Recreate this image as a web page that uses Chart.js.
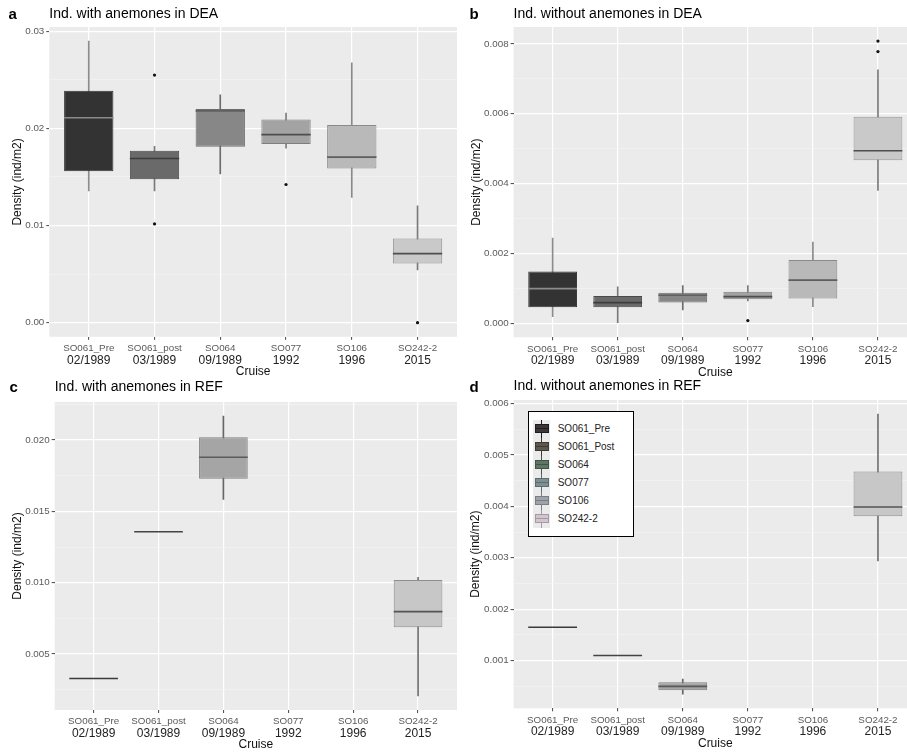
<!DOCTYPE html>
<html>
<head>
<meta charset="utf-8">
<script src="https://cdn.jsdelivr.net/npm/chart.js@4.4.1/dist/chart.umd.min.js"></script>
<style>
body { margin: 0; background: #fff; }
#page { position: relative; width: 907px; height: 753px; overflow: hidden; font-family: 'Liberation Sans', Arial, sans-serif; }
canvas { position: absolute; z-index: 1; }
.tag { position: absolute; z-index: 2; font-weight: bold; font-size: 15px; line-height: 15px; color: #000; }
#legend { position: absolute; z-index: 3; left: 528px; top: 411px; width: 106px; height: 126px; box-sizing: border-box; border: 1.3px solid #000; background: #fff; }
#legend .keys { position: absolute; left: 3.7px; top: 7.7px; width: 17px; height: 108px; background: #ebebeb; }
#legend .item { position: absolute; left: 0; height: 18px; width: 100px; }
#legend .wh { position: absolute; left: 12px; top: 0; width: 1px; height: 18px; }
#legend .bx { position: absolute; left: 5.5px; top: 4.5px; width: 14px; height: 9px; box-sizing: border-box; border: 1px solid; }
#legend .md { position: absolute; left: 0; top: 3px; width: 12px; height: 1px; }
#legend .lb { position: absolute; left: 28.7px; top: 3px; font-size: 10px; line-height: 12px; color: #222; }
</style>
</head>
<body>
<div id="page">
  <div class="tag" style="left:8.5px;top:6.3px">a</div>
  <div class="tag" style="left:469.5px;top:6.3px">b</div>
  <div class="tag" style="left:9.5px;top:379.3px">c</div>
  <div class="tag" style="left:469.5px;top:379.3px">d</div>
  <div id="legend"><div class="keys"></div></div>
</div>
<script>
const font_family = "'Liberation Sans', Arial, sans-serif"

const cruises = ['SO061_Pre', 'SO061_post', 'SO064', 'SO077', 'SO106', 'SO242-2']
const cruise_dates = ['02/1989', '03/1989', '09/1989', '1992', '1996', '2015']
const legend_names = ['SO061_Pre', 'SO061_Post', 'SO064', 'SO077', 'SO106', 'SO242-2']

// a - ind. with anemones in DEA
const a_low = [0.01357, 0.01357, 0.01531, 0.01796, 0.01289, 0.00544]
const a_q1 = [0.01558, 0.01476, 0.01810, 0.01840, 0.01588, 0.00609]
const a_med = [0.02109, 0.01690, 0.02180, 0.01935, 0.01704, 0.00711]
const a_q3 = [0.02388, 0.01769, 0.02199, 0.02092, 0.02034, 0.00867]
const a_high = [0.02898, 0.01816, 0.02344, 0.02156, 0.02673, 0.01204]
const a_out = [[], [0.02548, 0.01017], [], [0.01422], [], [0.0]]
const a_ticks = ['0.00', '0.01', '0.02', '0.03']

// b - ind. without anemones in DEA
const b_low = [0.00019, 0.00000, 0.00038, 0.00064, 0.000475, 0.00380]
const b_q1 = [0.000456, 0.000456, 0.00059, 0.000684, 0.00071, 0.00467]
const b_med = [0.00099, 0.00059, 0.00080, 0.00076, 0.001235, 0.00494]
const b_q3 = [0.00148, 0.00078, 0.000874, 0.00090, 0.00181, 0.00591]
const b_high = [0.00244, 0.00104, 0.00108, 0.00108, 0.00232, 0.00726]
const b_out = [[], [], [], [0.000076], [], [0.00808, 0.00778]]
const b_ticks = ['0.000', '0.002', '0.004', '0.006', '0.008']

// c - ind. with anemones in REF
const c_low = [0.00329, 0.01357, 0.01584, null, null, 0.00206]
const c_q1 = [0.00329, 0.01357, 0.01729, null, null, 0.00687]
const c_med = [0.00329, 0.01357, 0.01879, null, null, 0.00797]
const c_q3 = [0.00329, 0.01357, 0.02019, null, null, 0.01019]
const c_high = [0.00329, 0.01357, 0.02168, null, null, 0.01037]
const c_out = [[], [], [], [], [], []]
const c_ticks = ['0.005', '0.010', '0.015', '0.020']

// d - ind. without anemones in REF
const d_low = [0.001646, 0.001097, 0.000341, null, null, 0.00294]
const d_q1 = [0.001646, 0.001097, 0.000419, null, null, 0.00381]
const d_med = [0.001646, 0.001097, 0.000496, null, null, 0.00399]
const d_q3 = [0.001646, 0.001097, 0.000574, null, null, 0.00468]
const d_high = [0.001646, 0.001097, 0.000638, null, null, 0.00580]
const d_out = [[], [], [], [], [], []]
const d_ticks = ['0.001', '0.002', '0.003', '0.004', '0.005', '0.006']

// box styles
const dea_fill = ['#333333', '#6a6a6a', '#878787', '#a3a3a3', '#b9b9b9', '#c9c9c9']
const dea_border = ['#353535', '#4a4a4a', '#6c6c6c', '#7e7e7e', '#8a8a8a', '#959595']
const dea_median = ['#8c8c8c', '#3d3d3d', '#606060', '#4e4e4e', '#5e5e5e', '#4e4e4e']
const dea_whisker = ['#8c8c8c', '#7a7a7a', '#6c6c6c', '#7a7a7a', '#8a8a8a', '#7a7a7a']
const ref_fill = ['#444444', '#444444', '#a5a5a5', '#a3a3a3', '#b9b9b9', '#c7c7c7']
const ref_border = ['#444444', '#444444', '#808080', '#7e7e7e', '#8a8a8a', '#8e8e8e']
const ref_median = ['#3a3a3a', '#444444', '#5a5a5a', '#4e4e4e', '#5e5e5e', '#555555']
const ref_whisker = ['#444444', '#444444', '#666666', '#7a7a7a', '#8a8a8a', '#707070']

const legend_fill = ['#3b3738', '#5d584d', '#607566', '#7f9092', '#a0a2aa', '#d2c6ce']
const legend_line = ['#1e1c1c', '#3f3a30', '#3f5545', '#5c6e70', '#7b7d86', '#a898a2']

const panel_bg = {
    id: 'panel_bg',
    beforeDraw(chart) {
        const { ctx, chartArea: a } = chart
        ctx.save()
        ctx.fillStyle = '#ebebeb'
        ctx.fillRect(a.left, a.top, a.right - a.left, a.bottom - a.top)
        ctx.restore()
    }
}

function boxplot_chart(p, lay) {
    const canvas = document.createElement('canvas')
    canvas.width = lay.w
    canvas.height = lay.h
    canvas.style.left = lay.left + 'px'
    canvas.style.top = lay.top + 'px'
    document.getElementById('page').appendChild(canvas)

    const idx = cruises.map((c, i) => i).filter(i => p.med[i] != null)
    const all = [].concat(p.low, p.high, ...p.out).filter(v => v != null)
    const lo = Math.min(...all)
    const hi = Math.max(...all)
    const pad = (hi - lo) * 0.05

    // the code labels need room for underscores/descenders, the date row sits just under them
    const x_height = 18
    const title_top = lay.tc - 8.4
    const title_bottom = lay.pt - title_top - 16.8
    const x2_height = lay.h - lay.pb - x_height
    const x2_title_pad = lay.h - lay.pb - 42.2

    const half_box = ctx => {
        const s = ctx.chart.scales.x
        return s.getPixelForValue(1.375) - s.getPixelForValue(1)
    }

    const datasets = [
        {
            type: 'bar', order: 4, grouped: false,
            data: idx.map(i => ({ x: i + 1, y: [p.low[i], p.high[i]] })),
            backgroundColor: idx.map(i => p.whisker[i]),
            borderWidth: 0, barPercentage: 1, categoryPercentage: 1, maxBarThickness: 1
        },
        {
            type: 'bar', order: 3, grouped: false,
            data: idx.map(i => ({ x: i + 1, y: [p.q1[i], p.q3[i]] })),
            backgroundColor: idx.map(i => p.fill[i]),
            borderColor: idx.map(i => p.border[i]),
            borderWidth: 1, borderSkipped: false,
            barPercentage: 0.75, categoryPercentage: 1
        },
        {
            type: 'scatter', order: 2,
            data: idx.map(i => ({ x: i + 1, y: p.med[i] })),
            pointStyle: 'line',
            pointRadius: half_box,
            pointBorderColor: idx.map(i => p.median[i]),
            pointBorderWidth: 1.6
        },
        {
            type: 'scatter', order: 1,
            data: [].concat(...p.out.map((vals, i) => vals.map(v => ({ x: i + 1, y: v })))),
            pointRadius: 1.6,
            pointBackgroundColor: '#111',
            pointBorderWidth: 0
        }
    ]

    const cruise_ticks = s => { s.ticks = cruises.map((c, i) => ({ value: i + 1 })) }

    return new Chart(canvas, {
        type: 'bar',
        data: { datasets: datasets },
        options: {
            responsive: false,
            animation: false,
            events: [],
            layout: { padding: 0, autoPadding: false },
            plugins: {
                legend: { display: false },
                tooltip: { enabled: false },
                title: {
                    display: true,
                    text: p.title,
                    align: 'start',
                    fullSize: false,
                    color: '#000',
                    font: { family: font_family, size: 14, weight: 'normal' },
                    padding: { top: title_top, bottom: title_bottom }
                }
            },
            scales: {
                x: {
                    type: 'linear', position: 'bottom', weight: 0,
                    min: 0.4, max: 6.6, offset: false,
                    grid: { offset: false, color: '#ffffff', lineWidth: 1.2, tickColor: '#444', tickLength: 3, tickWidth: 1 },
                    border: { display: false },
                    ticks: {
                        font: { family: font_family, size: 9.8 }, color: '#5a5a5a',
                        padding: 2.7, autoSkip: false, maxRotation: 0,
                        callback: v => cruises[v - 1]
                    },
                    afterBuildTicks: cruise_ticks,
                    afterFit: s => { s.height = x_height; s.paddingLeft = 0; s.paddingRight = 0 }
                },
                x2: {
                    type: 'linear', position: 'bottom', weight: 1,
                    min: 0.4, max: 6.6, offset: false,
                    grid: { display: false, drawTicks: false, tickLength: 0 },
                    border: { display: false },
                    ticks: {
                        font: { family: font_family, size: 12 }, color: '#222',
                        padding: 16.3 - x_height, autoSkip: false, maxRotation: 0,
                        callback: v => cruise_dates[v - 1]
                    },
                    title: {
                        display: true, text: 'Cruise', color: '#111',
                        font: { family: font_family, size: 12 },
                        padding: { top: 0, bottom: x2_title_pad }
                    },
                    afterBuildTicks: cruise_ticks,
                    afterFit: s => { s.height = x2_height; s.paddingLeft = 0; s.paddingRight = 0 }
                },
                y: {
                    type: 'linear', beginAtZero: false,
                    min: lo - pad, max: hi + pad,
                    grid: {
                        color: c => c.tick && c.tick.minor ? '#f5f5f5' : '#ffffff',
                        lineWidth: c => c.tick && c.tick.minor ? 0.6 : 1.2,
                        tickColor: c => c.tick && c.tick.minor ? 'rgba(0,0,0,0)' : '#444',
                        tickLength: 3, tickWidth: 1
                    },
                    border: { display: false },
                    ticks: {
                        font: { family: font_family, size: 9.8 }, color: '#5a5a5a',
                        padding: 2, autoSkip: false,
                        callback: (v, i, t) => t[i].minor ? '' : t[i].txt
                    },
                    title: {
                        display: true, text: 'Density (ind/m2)', color: '#111',
                        font: { family: font_family, size: 12 },
                        padding: { top: lay.ytp, bottom: 0 }
                    },
                    afterBuildTicks: s => {
                        const major = p.ticks.map(t => ({ value: parseFloat(t), txt: t }))
                        const step = major[1].value - major[0].value
                        const minor = []
                        for (let k = -1; k < major.length + 1; k++) {
                            const v = major[0].value + (k + 0.5) * step
                            if (v > s.min && v < s.max) minor.push({ value: v, minor: true })
                        }
                        s.ticks = major.concat(minor).sort((m, n) => m.value - n.value)
                    },
                    afterFit: s => { s.width = lay.yw; s.paddingTop = 0; s.paddingBottom = 0 }
                }
            }
        },
        plugins: [panel_bg]
    })
}

boxplot_chart(
    { title: 'Ind. with anemones in DEA', low: a_low, q1: a_q1, med: a_med, q3: a_q3, high: a_high, out: a_out, ticks: a_ticks,
      fill: dea_fill, border: dea_border, median: dea_median, whisker: dea_whisker },
    { left: 0, top: 0, w: 457, h: 379, yw: 49.3, ytp: 10.8, tc: 14.5, pt: 27, pb: 336.8 }
)
boxplot_chart(
    { title: 'Ind. without anemones in DEA', low: b_low, q1: b_q1, med: b_med, q3: b_q3, high: b_high, out: b_out, ticks: b_ticks,
      fill: dea_fill, border: dea_border, median: dea_median, whisker: dea_whisker },
    { left: 455, top: 0, w: 462, h: 380, yw: 58.6, ytp: 14.8, tc: 14, pt: 27, pb: 337.3 }
)
boxplot_chart(
    { title: 'Ind. with anemones in REF', low: c_low, q1: c_q1, med: c_med, q3: c_q3, high: c_high, out: c_out, ticks: c_ticks,
      fill: ref_fill, border: ref_border, median: ref_median, whisker: ref_whisker },
    { left: 0, top: 375, w: 457, h: 378, yw: 54.7, ytp: 10, tc: 12, pt: 27, pb: 335 }
)
boxplot_chart(
    { title: 'Ind. without anemones in REF', low: d_low, q1: d_q1, med: d_med, q3: d_q3, high: d_high, out: d_out, ticks: d_ticks,
      fill: ref_fill, border: ref_border, median: ref_median, whisker: ref_whisker },
    { left: 455, top: 375, w: 462, h: 376, yw: 58.6, ytp: 13.8, tc: 11.5, pt: 25, pb: 333.3 }
)

// legend of panel d
const legend = document.getElementById('legend')
legend_names.forEach((name, i) => {
    const item = document.createElement('div')
    item.className = 'item'
    item.style.top = (7.7 + i * 18) + 'px'
    item.innerHTML =
        '<div class="wh" style="background:' + legend_line[i] + '"></div>' +
        '<div class="bx" style="background:' + legend_fill[i] + ';border-color:' + legend_line[i] + '">' +
        '<div class="md" style="background:' + legend_line[i] + '"></div></div>' +
        '<div class="lb">' + name + '</div>'
    legend.appendChild(item)
})
</script>
</body>
</html>
